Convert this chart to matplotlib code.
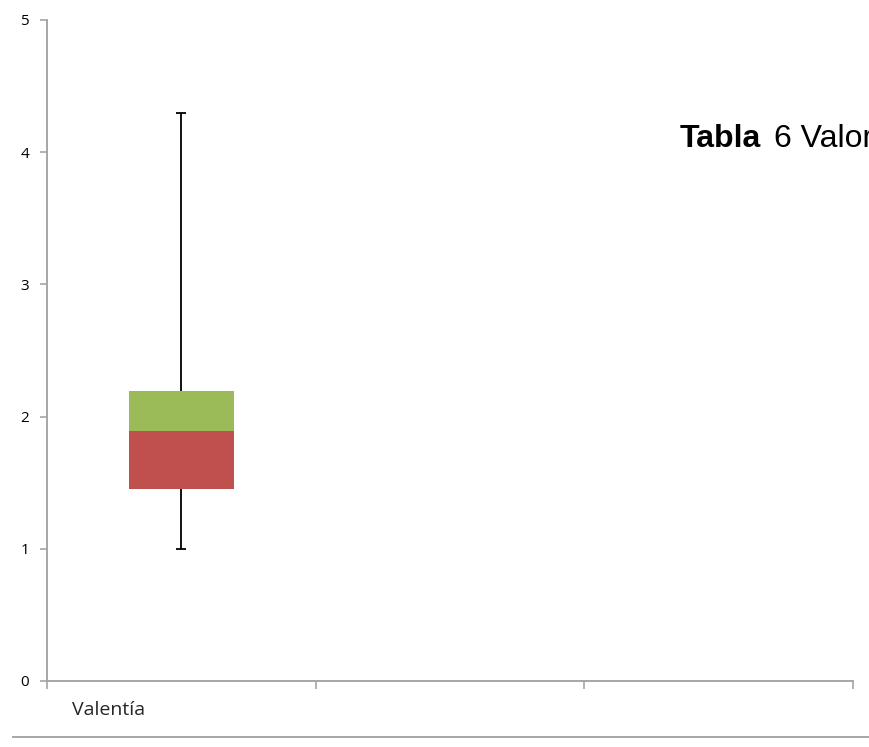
import matplotlib
matplotlib.use("Agg")
import matplotlib.pyplot as plt
from matplotlib.lines import Line2D

categories = ["Valentía"]
minimum = [1.0]
q1 = [1.45]
median = [1.89]
q3 = [2.19]
maximum = [4.3]
yticks = [0, 1, 2, 3, 4, 5]

W, H = 869, 747
fig = plt.figure(figsize=(W / 100, H / 100), dpi=100)
ax = fig.add_axes([47 / W, (H - 681) / H, (853 - 47) / W, (681 - 20) / H])

xs = [i + 0.5 for i in range(len(categories))]
red = "#C0504D"
green = "#9BBB59"
grey = "#A6A6A6"

# whiskers
for x, lo, hi in zip(xs, minimum, maximum):
    mid = (lo + hi) / 2
    ax.errorbar([x], [mid], yerr=[[mid - lo], [hi - mid]],
                fmt="none", ecolor="black", elinewidth=1.3, capsize=3.6, capthick=1.3, zorder=1)

lower = [m - a for m, a in zip(median, q1)]
upper = [b - m for b, m in zip(q3, median)]
ax.bar(xs, lower, bottom=q1, width=0.39, color=red, zorder=2)
ax.bar(xs, upper, bottom=median, width=0.39, color=green, zorder=2)

ax.set_xlim(0, 3)
ax.set_ylim(0, 5)
ax.set_yticks(yticks)
ax.set_yticklabels([str(t) for t in yticks], fontsize=11, family="Open Sans")
ax.set_xticks([0, 1, 2, 3])
ax.set_xticklabels([])
ax.tick_params(axis="y", direction="out", length=5, width=1.2, color=grey, pad=8)
ax.tick_params(axis="x", direction="out", length=6, width=1.2, color=grey)
for s in ["top", "right"]:
    ax.spines[s].set_visible(False)
for s in ["left", "bottom"]:
    ax.spines[s].set_color(grey)
    ax.spines[s].set_linewidth(1.4)

for x, c in zip(xs, categories):
    ax.text(x - 0.408, -0.22, c, ha="left", va="center", fontsize=14, family="Open Sans",
            color="#262626")

fig.text(680 / W, 1 - 139 / H, "Tabla", fontsize=23, fontweight="bold",
         family="Liberation Sans", va="center", ha="left")
fig.text(774 / W, 1 - 139 / H, "6 Valor", fontsize=23,
         family="Liberation Sans", va="center", ha="left")

fig.add_artist(Line2D([13 / W, 1.0], [1 - 737 / H, 1 - 737 / H], color=grey, lw=1.4,
                      transform=fig.transFigure))

fig.savefig("out.png", dpi=100)
